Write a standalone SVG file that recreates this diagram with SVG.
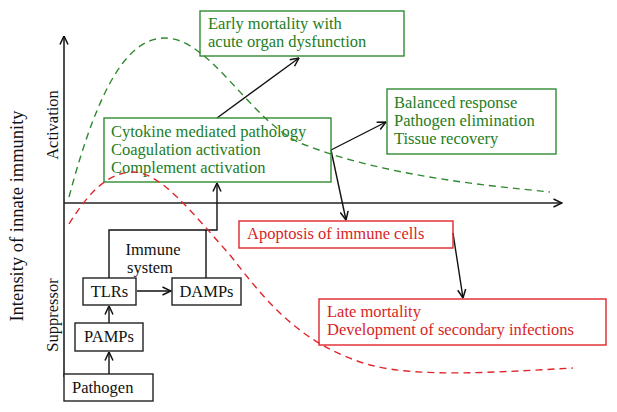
<svg xmlns="http://www.w3.org/2000/svg" width="617" height="412" viewBox="0 0 617 412">
<style>
text{font-family:"Liberation Serif","Times New Roman",serif;font-size:16.5px}
.g rect{fill:none;stroke:#2f8a2f;stroke-width:1.4}
.g text{fill:#237d23}
.r rect{fill:none;stroke:#e0262b;stroke-width:1.4}
.r text{fill:#d81f26}
.k rect{fill:#fff;stroke:#222;stroke-width:1.4}
.k text{fill:#111}
.ax{stroke:#222;stroke-width:1.6;fill:none}
.c{stroke:#111;stroke-width:1.4;fill:none}
.gd{stroke:#2f8a2f;stroke-width:1.4;fill:none;stroke-dasharray:7 5}
.rd{stroke:#e0262b;stroke-width:1.4;fill:none;stroke-dasharray:7 5}
</style>
<defs>
<marker id="a" viewBox="0 0 10 10" refX="9.5" refY="5" markerWidth="10" markerHeight="10" markerUnits="userSpaceOnUse" orient="auto">
<path d="M1,1 L9.5,5 L1,9" fill="none" stroke="#111" stroke-width="1.5"/>
</marker>
</defs>
<rect width="617" height="412" fill="#fff"/>
<g id="axes">
<path class="ax" d="M64,377 L64,36" marker-end="url(#a)"/>
<path class="ax" d="M64,203 L562,203" marker-end="url(#a)"/>
<text transform="translate(23,216) rotate(-90)" text-anchor="middle" style="font-size:18.5px" fill="#111">Intensity of innate immunity</text>
<text transform="translate(58,125) rotate(-90)" text-anchor="middle" fill="#111">Activation</text>
<text transform="translate(58,315) rotate(-90)" text-anchor="middle" fill="#111">Suppressor</text>
</g>
<g id="connectors">
<path class="c" d="M109,374 L109,352" marker-end="url(#a)"/>
<path class="c" d="M109,323 L109,306" marker-end="url(#a)"/>
<path class="c" d="M137,291 L171,291" marker-end="url(#a)"/>
<path class="c" d="M109,278 V230 H217 V183" marker-end="url(#a)"/>
<path class="c" d="M206,278 V230"/>
<path class="c" d="M217,118 L299,58" marker-end="url(#a)"/>
<path class="c" d="M331,150 L386,122" marker-end="url(#a)"/>
<path class="c" d="M331,150 L346,220" marker-end="url(#a)"/>
<path class="c" d="M453,233 L463,298" marker-end="url(#a)"/>
</g>
<g id="early" class="g">
<rect x="200" y="11" width="204" height="45"/>
<text x="208" y="29">Early mortality with</text>
<text x="208" y="47">acute organ dysfunction</text>
</g>
<g id="cytokine" class="g">
<rect x="104" y="118" width="227" height="64"/>
<text x="111" y="137">Cytokine mediated pathology</text>
<text x="111" y="155">Coagulation activation</text>
<text x="111" y="173">Complement activation</text>
</g>
<g id="balanced" class="g">
<rect x="387" y="89" width="169" height="65"/>
<text x="394" y="108">Balanced response</text>
<text x="394" y="126">Pathogen elimination</text>
<text x="394" y="144">Tissue recovery</text>
</g>
<g id="apoptosis" class="r">
<rect x="239" y="221" width="214" height="27"/>
<text x="247" y="239">Apoptosis of immune cells</text>
</g>
<g id="late" class="r">
<rect x="319" y="299" width="287" height="46"/>
<text x="327" y="317">Late mortality</text>
<text x="327" y="335">Development of secondary infections</text>
</g>
<g id="curves">
<path class="gd" d="M69,197 C100,80 130,38 165,38 C210,38 250,120 300,143 C380,175 480,185 550,192"/>
<path class="rd" d="M69,224 C90,190 110,172 133,172 C160,172 190,210 230,255 C265,300 300,345 370,365 C420,378 500,372 573,368"/>
</g>
<g id="immune" class="k">
<text x="153" y="255" text-anchor="middle">Immune</text>
<text x="150" y="273" text-anchor="middle">system</text>
</g>
<g id="tlrs" class="k">
<rect x="83" y="278" width="53" height="27"/>
<text x="109.5" y="297" text-anchor="middle">TLRs</text>
</g>
<g id="damps" class="k">
<rect x="172" y="278" width="69" height="27"/>
<text x="206.5" y="297" text-anchor="middle">DAMPs</text>
</g>
<g id="pamps" class="k">
<rect x="75" y="323" width="68" height="28"/>
<text x="109" y="342" text-anchor="middle">PAMPs</text>
</g>
<g id="pathogen" class="k">
<rect x="64" y="374" width="89" height="27"/>
<text x="72" y="393">Pathogen</text>
</g>
</svg>
